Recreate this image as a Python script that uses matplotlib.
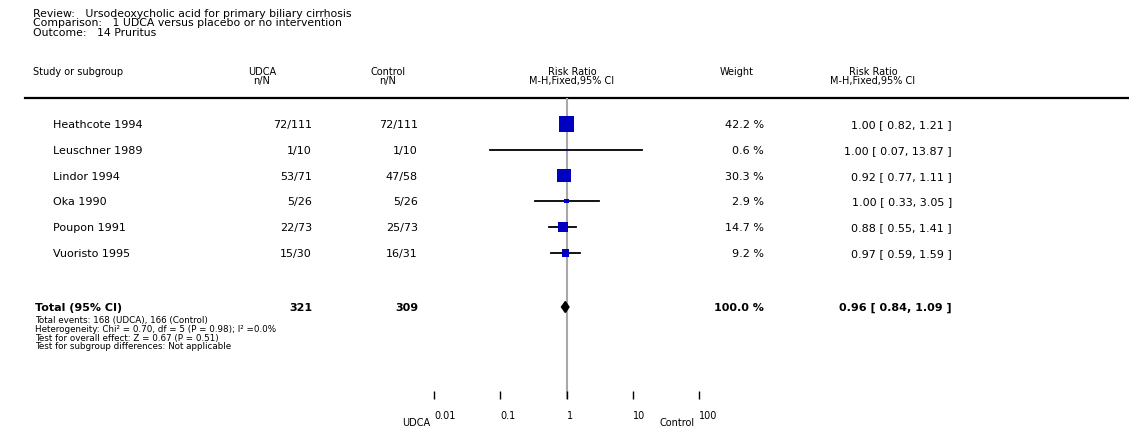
import numpy as np
import matplotlib.pyplot as plt

# Studies and counts
studies = ['Heathcote 1994', 'Leuschner 1989', 'Lindor 1994', 'Oka 1990', 'Poupon 1991', 'Vuoristo 1995']
udca_events = [72, 1, 53, 5, 22, 15]
udca_total = [111, 10, 71, 26, 73, 30]
ctrl_events = [72, 1, 47, 5, 25, 16]
ctrl_total = [111, 10, 58, 26, 73, 31]

# Risk ratios (M-H, fixed) and weights
rr = [1.00, 1.00, 0.92, 1.00, 0.88, 0.97]
ci_low = [0.82, 0.07, 0.77, 0.33, 0.55, 0.59]
ci_high = [1.21, 13.87, 1.11, 3.05, 1.41, 1.59]
weight = [42.2, 0.6, 30.3, 2.9, 14.7, 9.2]

pooled_rr = 0.96
pooled_low = 0.84
pooled_high = 1.09
pooled_weight = 100.0

header = ['Review:   Ursodeoxycholic acid for primary biliary cirrhosis',
          'Comparison:   1 UDCA versus placebo or no intervention',
          'Outcome:   14 Pruritus']
footer = ['Heterogeneity: Chi\u00b2 = 0.70, df = 5 (P = 0.98); I\u00b2 =0.0%',
          'Test for overall effect: Z = 0.67 (P = 0.51)',
          'Test for subgroup differences: Not applicable']
xticks = [0.01, 0.1, 1, 10, 100]
xtick_labels = ['0.01', '0.1', '1', '10', '100']

W, H = 1129, 435
fig = plt.figure(figsize=(W / 100, H / 100), dpi=100)

# table layer in pixel units
tab = fig.add_axes((0, 0, 1, 1))
tab.set_xlim(0, W)
tab.set_ylim(H, 0)
tab.axis('off')

row_y = [125 + 25.8 * i for i in range(len(studies))]
total_y = 308
top_y, axis_y = 99, 400

# forest panel, log scale 0.01 - 100
x0, x1 = 434, 699
fx = fig.add_axes((x0 / W, (H - axis_y) / H, (x1 - x0) / W, (axis_y - top_y) / H))
fx.set_xscale('log')
fx.set_xlim(0.01, 100)
fx.set_ylim(axis_y, top_y)
fx.patch.set_alpha(0)
for s in fx.spines.values():
    s.set_visible(False)
fx.set_yticks([])
fx.set_xticks(xticks)
fx.set_xticklabels(xtick_labels)
fx.minorticks_off()
fx.tick_params(axis='x', direction='in', length=6, width=1, pad=8, labelsize=7)
for lbl in fx.get_xticklabels():
    lbl.set_ha('left')

fx.axvline(1, color='#a8a8a8', lw=1.5, zorder=1)

for i in range(len(studies)):
    fx.plot([ci_low[i], ci_high[i]], [row_y[i], row_y[i]], color='black', lw=1.3, zorder=2)
    side = 2.46 * np.sqrt(weight[i]) * 0.72
    fx.scatter([rr[i]], [row_y[i]], marker='s', s=side ** 2, color='#0000c0',
               edgecolors='none', zorder=3)

# pooled diamond
dh = 5.5
fx.fill([pooled_low, pooled_rr, pooled_high, pooled_rr],
        [total_y, total_y - dh, total_y, total_y + dh], color='black', zorder=3)

fs = 8
hfs = 7
# header block
for k, line in enumerate(header):
    tab.text(33, 14 + 9.5 * k, line, fontsize=7.8, va='center')

# column headings
tab.text(33, 72, 'Study or subgroup', fontsize=hfs, va='center')
tab.text(262, 72, 'UDCA', fontsize=hfs, va='center', ha='center')
tab.text(262, 81, 'n/N', fontsize=hfs, va='center', ha='center')
tab.text(388, 72, 'Control', fontsize=hfs, va='center', ha='center')
tab.text(388, 81, 'n/N', fontsize=hfs, va='center', ha='center')
tab.text(572, 72, 'Risk Ratio', fontsize=hfs, va='center', ha='center')
tab.text(572, 81, 'M-H,Fixed,95% CI', fontsize=hfs, va='center', ha='center')
tab.text(737, 72, 'Weight', fontsize=hfs, va='center', ha='center')
tab.text(873, 72, 'Risk Ratio', fontsize=hfs, va='center', ha='center')
tab.text(873, 81, 'M-H,Fixed,95% CI', fontsize=hfs, va='center', ha='center')
tab.plot([25, W], [99, 99], color='black', lw=1.6)

for i, name in enumerate(studies):
    y = row_y[i]
    tab.text(53, y, name, fontsize=fs, va='center')
    tab.text(312, y, f'{udca_events[i]}/{udca_total[i]}', fontsize=fs, va='center', ha='right')
    tab.text(418, y, f'{ctrl_events[i]}/{ctrl_total[i]}', fontsize=fs, va='center', ha='right')
    tab.text(764, y, f'{weight[i]:.1f} %', fontsize=fs, va='center', ha='right')
    tab.text(952, y, f'{rr[i]:.2f} [ {ci_low[i]:.2f}, {ci_high[i]:.2f} ]',
             fontsize=fs, va='center', ha='right')

# totals
tab.text(35, total_y, 'Total (95% CI)', fontsize=fs, va='center', weight='bold')
tab.text(312, total_y, f'{sum(udca_total)}', fontsize=fs, va='center', ha='right', weight='bold')
tab.text(418, total_y, f'{sum(ctrl_total)}', fontsize=fs, va='center', ha='right', weight='bold')
tab.text(764, total_y, f'{pooled_weight:.1f} %', fontsize=fs, va='center', ha='right', weight='bold')
tab.text(952, total_y, f'{pooled_rr:.2f} [ {pooled_low:.2f}, {pooled_high:.2f} ]',
         fontsize=fs, va='center', ha='right', weight='bold')

notes = [f'Total events: {sum(udca_events)} (UDCA), {sum(ctrl_events)} (Control)'] + footer
for k, line in enumerate(notes):
    tab.text(35, 321 + 8.6 * k, line, fontsize=6.3, va='center')

tab.text(430, 423, 'UDCA', fontsize=7, va='center', ha='right')
tab.text(660, 423, 'Control', fontsize=7, va='center', ha='left')

fig.savefig('out.png', dpi=100)
